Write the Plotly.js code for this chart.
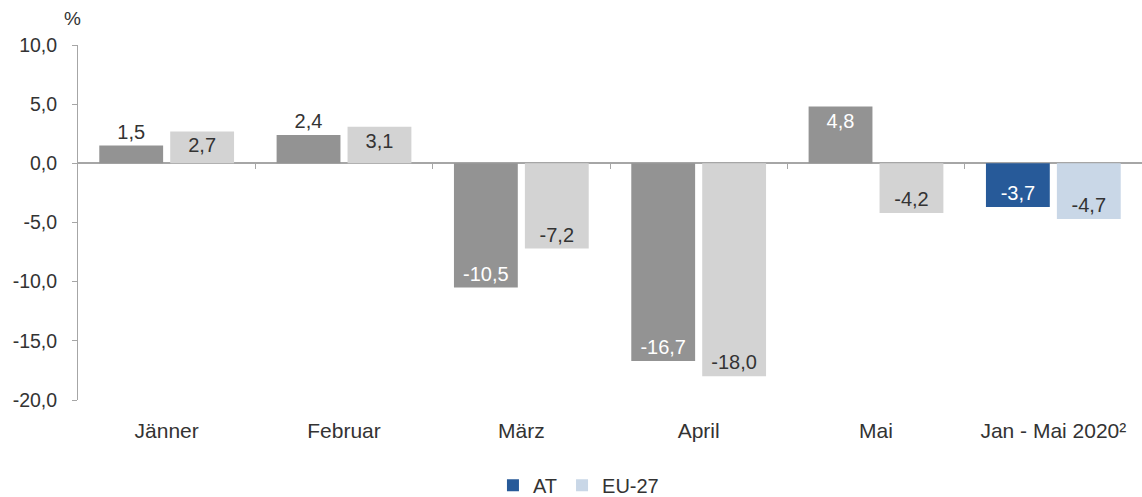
<!DOCTYPE html>
<html>
<head>
<meta charset="utf-8">
<script src="https://cdn.plot.ly/plotly-3.0.1.min.js"></script>
<style>html,body{margin:0;padding:0;background:#fff;}#chart{width:1142px;height:497px;}</style>
</head>
<body>
<div id="chart"></div>
<script>
const categories = ["Jänner", "Februar", "März", "April", "Mai", "Jan - Mai 2020²"];
const atValues = [1.5, 2.4, -10.5, -16.7, 4.8, -3.7];
const euValues = [2.7, 3.1, -7.2, -18.0, -4.2, -4.7];
const seriesNames = ["AT", "EU-27"];
const yTicks = [-20, -15, -10, -5, 0, 5, 10];

const fmt = v => v.toFixed(1).replace('.', ',');
const last = categories.length - 1;
const atColors = categories.map((c, i) => i === last ? '#275A99' : '#939393');
const euColors = categories.map((c, i) => i === last ? '#C9D7E7' : '#D3D3D3');
const atPos = atValues.map(v => (v > 0 && v < 3) ? 'outside' : 'inside');
const atTextCol = atPos.map(p => p === 'outside' ? '#333333' : '#ffffff');

const font = 'Liberation Sans, Arial, sans-serif';
const txt = '#333333';

const traces = [
  {
    type: 'bar', name: seriesNames[0], x: categories, y: atValues,
    text: atValues.map(fmt), textposition: atPos, insidetextanchor: 'end',
    textfont: {color: atTextCol, size: 20, family: font},
    constraintext: 'none', cliponaxis: false,
    marker: {color: atColors}, offset: -0.38, width: 0.36,
    showlegend: false, hoverinfo: 'x+y'
  },
  {
    type: 'bar', name: seriesNames[1], x: categories, y: euValues,
    text: euValues.map(fmt), textposition: 'inside', insidetextanchor: 'end',
    textfont: {color: txt, size: 20, family: font},
    constraintext: 'none', cliponaxis: false,
    marker: {color: euColors}, offset: 0.02, width: 0.36,
    showlegend: false, hoverinfo: 'x+y'
  },
  {
    type: 'bar', name: seriesNames[0], x: [categories[0]], y: [null],
    xaxis: 'x2', marker: {color: '#275A99'}, showlegend: true
  },
  {
    type: 'bar', name: seriesNames[1], x: [categories[0]], y: [null],
    xaxis: 'x2', marker: {color: '#C9D7E7'}, showlegend: true
  }
];

const layout = {
  width: 1142, height: 497,
  margin: {l: 78, r: 0, t: 45, b: 97, autoexpand: false},
  paper_bgcolor: '#ffffff', plot_bgcolor: '#ffffff',
  barmode: 'overlay',
  separators: ',.',
  font: {family: font, color: txt, size: 19},
  xaxis: {
    type: 'category', range: [-0.5, 5.5], showline: false, showgrid: false, zeroline: false,
    ticks: 'outside', ticklen: 12, tickcolor: 'rgba(0,0,0,0)',
    tickfont: {size: 21, color: txt, family: font}, fixedrange: true
  },
  xaxis2: {
    type: 'category', overlaying: 'x', anchor: 'free', position: 2/3, range: [-0.5, 5.5],
    showline: false, showgrid: false, zeroline: false, showticklabels: false,
    tickmode: 'array', tickvals: [0.5, 1.5, 2.5, 3.5, 4.5],
    ticks: 'outside', ticklen: 5, tickwidth: 1, tickcolor: '#A6A6A6', fixedrange: true
  },
  yaxis: {
    range: [-20, 10], tickmode: 'array', tickvals: yTicks, ticktext: yTicks.map(fmt),
    showline: true, linecolor: '#A6A6A6', linewidth: 1,
    ticks: 'outside', ticklen: 5, tickcolor: '#A6A6A6', ticklabelstandoff: 11,
    showgrid: false, zeroline: true, zerolinecolor: '#A6A6A6', zerolinewidth: 2,
    tickfont: {size: 19.5, color: txt, family: font}, fixedrange: true
  },
  legend: {
    orientation: 'h', x: 0.39, xanchor: 'left', y: -0.24, yanchor: 'middle',
    font: {size: 20, color: txt, family: font}, traceorder: 'normal',
    itemwidth: 30
  },
  annotations: [{
    text: '%', xref: 'paper', yref: 'paper', x: -0.0056, y: 1.076,
    xanchor: 'center', yanchor: 'middle', showarrow: false,
    font: {size: 19, color: txt, family: font}
  }]
};

Plotly.newPlot('chart', traces, layout, {displayModeBar: false, staticPlot: true});
</script>
</body>
</html>
